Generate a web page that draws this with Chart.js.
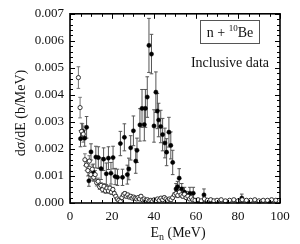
<!DOCTYPE html>
<html>
<head>
<meta charset="utf-8">
<script src="https://cdn.jsdelivr.net/npm/chart.js@4/dist/chart.umd.min.js"></script>
<style>
  html, body { margin: 0; padding: 0; background: #fff; }
  #myChart { display: block; }
</style>
</head>
<body>
<canvas id="myChart" width="300" height="244"></canvas>
<script>
// values in 10^-3 b/MeV, energies in MeV
var filledE = [5.0, 5.9, 7.0, 7.9, 9.0, 10.0, 11.1, 12.3, 13.5, 14.8, 16.0, 17.3, 18.3, 19.5, 20.5, 21.5, 22.6, 24.0, 25.0, 25.9,
    27.3, 28.0, 28.9, 30.2, 31.3, 31.9, 33.3, 34.3, 35.4, 35.9, 36.8, 37.6, 38.8, 40.0, 40.9, 41.6, 42.2, 43.2, 44.1, 45.2,
    46.0, 47.1, 48.0, 48.9, 50.5, 51.2, 52.0, 53.2, 54.5, 55.6, 57.1, 58.7, 60.0, 61.3, 62.5, 63.8, 65.2, 66.5, 70.0, 75.0,
    80.0, 81.8, 85.0, 90.0, 95.0];
var filledVal = [2.38, 2.65, 2.40, 2.80, 0.82, 1.89, 1.14, 1.70, 1.68, 1.27, 1.62, 1.08, 1.66, 1.10, 1.68, 0.98, 0.95, 2.20, 0.95, 2.43,
    1.05, 1.26, 2.04, 2.67, 1.55, 1.95, 2.89, 3.50, 2.90, 3.50, 3.92, 5.83, 5.51, 2.85, 4.10, 3.40, 3.07, 2.83, 2.53, 2.22,
    1.88, 2.62, 2.13, 1.50, 0.52, 0.60, 0.92, 0.52, 0.40, 0.28, 0.36, 0.36, 0.08, 0.06, 0.05, 0.30, 0.06, 0.04, 0.03, 0.04,
    0.04, 0.18, 0.04, 0.03, 0.03];
var filledErr = [0.30, 0.28, 0.30, 0.40, 0.20, 0.30, 0.30, 0.40, 0.40, 0.40, 0.42, 0.40, 0.42, 0.40, 0.42, 0.30, 0.30, 0.45, 0.30, 0.50,
    0.35, 0.40, 0.45, 0.55, 0.45, 0.45, 0.60, 0.70, 0.60, 0.70, 0.75, 1.00, 0.73, 0.60, 0.75, 0.65, 0.62, 0.60, 0.60, 0.55,
    0.50, 0.55, 0.50, 0.45, 0.20, 0.20, 0.35, 0.20, 0.18, 0.15, 0.22, 0.22, 0.06, 0.05, 0.05, 0.22, 0.05, 0.04, 0.03, 0.04,
    0.04, 0.15, 0.04, 0.03, 0.03];

var openE = [4.0, 4.8, 5.5, 6.3, 7.1, 7.8, 8.5, 9.2, 9.9, 10.6, 11.3, 12.0, 12.7, 13.4, 14.1, 14.8, 15.5, 16.2, 16.9, 17.6,
    18.3, 19.0, 19.7, 20.4, 21.1, 21.8, 22.5, 23.2, 24.0, 24.7, 25.4, 26.1, 26.8, 27.5, 28.2, 28.9, 29.6, 30.3, 31.0, 31.7,
    32.4, 33.1, 33.8, 34.5, 35.3, 36.1, 36.9, 37.7, 38.5, 39.3, 40.1, 40.9, 41.7, 42.5, 43.3, 44.1, 44.9, 45.7, 46.5, 47.3,
    48.1, 48.9, 49.7, 50.5, 51.3, 52.1, 52.9, 53.7, 54.5, 55.3, 56.1, 56.9, 57.7, 58.5, 59.5, 61, 62.5, 64, 65.5, 67,
    68.5, 70, 72, 74, 76, 78, 80, 82, 84, 86, 88, 90, 92, 94, 96, 98];
var openVal = [4.64, 3.53, 2.65, 2.55, 1.60, 1.40, 1.20, 1.55, 1.05, 1.25, 0.95, 1.05, 0.75, 0.80, 0.60, 0.65, 0.50, 0.62, 0.45, 0.55,
    0.45, 0.55, 0.40, 0.50, 0.35, 0.25, 0.15, 0.10, 0.05, 0.20, 0.30, 0.35, 0.25, 0.30, 0.22, 0.25, 0.18, 0.22, 0.18, 0.15,
    0.20, 0.15, 0.25, 0.12, 0.15, 0.10, 0.12, 0.08, 0.10, 0.06, 0.12, 0.08, 0.15, 0.10, 0.18, 0.12, 0.20, 0.15, 0.10, 0.15,
    0.12, 0.20, 0.30, 0.35, 0.28, 0.40, 0.30, 0.25, 0.32, 0.20, 0.25, 0.15, 0.20, 0.12, 0.10, 0.12, 0.08, 0.15, 0.10, 0.12,
    0.08, 0.10, 0.12, 0.08, 0.10, 0.12, 0.08, 0.12, 0.10, 0.10, 0.12, 0.08, 0.10, 0.10, 0.12, 0.10];
var openErr = [0.40, 0.38, 0.30, 0.30, 0.22, 0.20, 0.20, 0.20, 0.16, 0.16, 0.15, 0.15, 0.12, 0.12, 0.10, 0.10, 0.10, 0.10, 0.09, 0.09,
    0.09, 0.09, 0.08, 0.08, 0.08, 0.07, 0.06, 0.05, 0.05, 0.06, 0.07, 0.07, 0.06, 0.06, 0.06, 0.06, 0.05, 0.05, 0.05, 0.05,
    0.05, 0.05, 0.06, 0.05, 0.05, 0.05, 0.05, 0.04, 0.04, 0.04, 0.05, 0.04, 0.05, 0.05, 0.06, 0.05, 0.06, 0.05, 0.05, 0.05,
    0.05, 0.06, 0.08, 0.09, 0.08, 0.10, 0.08, 0.07, 0.08, 0.06, 0.07, 0.05, 0.06, 0.05, 0.04, 0.05, 0.04, 0.05, 0.04, 0.05,
    0.04, 0.04, 0.05, 0.04, 0.04, 0.05, 0.04, 0.05, 0.04, 0.04, 0.05, 0.04, 0.04, 0.04, 0.05, 0.04];

var xTicks = [0, 20, 40, 60, 80, 100];
var yTicks = [0, 0.001, 0.002, 0.003, 0.004, 0.005, 0.006, 0.007];

var serif = '"Liberation Serif", "DejaVu Serif", serif';

function toPoints(es, vs, errs) {
    var pts = [];
    for (var i = 0; i < es.length; i++) {
        pts.push({ x: es[i], y: vs[i] * 1e-3, err: errs[i] * 1e-3 });
    }
    return pts;
}

// error bars, drawn under the markers
var errorBars = {
    id: 'errorBars',
    beforeDatasetsDraw: function (chart) {
        var c = chart.ctx, xs = chart.scales.x, ys = chart.scales.y;
        c.save();
        chart.data.datasets.forEach(function (ds) {
            c.strokeStyle = ds.errColor;
            c.lineWidth = 1;
            ds.data.forEach(function (p) {
                var px = xs.getPixelForValue(p.x);
                var top = ys.getPixelForValue(p.y + p.err);
                var bot = ys.getPixelForValue(Math.max(0, p.y - p.err));
                c.beginPath();
                c.moveTo(px, top); c.lineTo(px, bot);
                c.moveTo(px - 1.8, top); c.lineTo(px + 1.8, top);
                c.moveTo(px - 1.8, bot); c.lineTo(px + 1.8, bot);
                c.stroke();
            });
        });
        c.restore();
    }
};

// frame, inward ticks, axis titles, labels
var decorations = {
    id: 'decorations',
    afterDraw: function (chart) {
        var c = chart.ctx, a = chart.chartArea, xs = chart.scales.x, ys = chart.scales.y;
        c.save();
        c.strokeStyle = '#000';
        c.lineWidth = 1;
        c.beginPath();
        for (var e = 0; e <= 100; e += 5) {
            var px = Math.round(xs.getPixelForValue(e)) + 0.5;
            var len = (e % 20 === 0) ? 5 : 3;
            c.moveTo(px, a.bottom); c.lineTo(px, a.bottom - len);
            c.moveTo(px, a.top); c.lineTo(px, a.top + len);
        }
        for (var k = 0; k <= 35; k++) {
            var py = Math.round(ys.getPixelForValue(k * 0.0002)) + 0.5;
            var l2 = (k % 5 === 0) ? 5 : 3;
            c.moveTo(a.left, py); c.lineTo(a.left + l2, py);
            c.moveTo(a.right, py); c.lineTo(a.right - l2, py);
        }
        c.stroke();

        c.lineWidth = 1.6;
        c.strokeRect(a.left, a.top, a.right - a.left, a.bottom - a.top);

        c.fillStyle = '#111';
        // x title with subscript
        c.font = '14px ' + serif;
        c.textBaseline = 'alphabetic';
        c.textAlign = 'left';
        var t1 = 'E', t2 = 'n', t3 = ' (MeV)';
        c.font = '14px ' + serif;
        var w1 = c.measureText(t1).width, w3 = c.measureText(t3).width;
        c.font = '10px ' + serif;
        var w2 = c.measureText(t2).width;
        var x0 = (a.left + a.right) / 2 - (w1 + w2 + w3) / 2 + 3;
        var by = 237;
        c.font = '14px ' + serif;
        c.fillText(t1, x0, by);
        c.font = '10px ' + serif;
        c.fillText(t2, x0 + w1, by + 3);
        c.font = '14px ' + serif;
        c.fillText(t3, x0 + w1 + w2, by);

        // y title
        c.save();
        c.translate(25, 113);
        c.rotate(-Math.PI / 2);
        c.textAlign = 'center';
        c.font = '14px ' + serif;
        c.fillText('d\u03c3/dE (b/MeV)', 0, 0);
        c.restore();

        // legend box "n + 10Be"
        c.lineWidth = 1;
        c.strokeStyle = '#555';
        c.strokeRect(200.5, 20.5, 59, 23);
        c.font = '14px ' + serif;
        var s1 = 'n + ', s2 = '10', s3 = 'Be';
        var ww1 = c.measureText(s1).width, ww3 = c.measureText(s3).width;
        c.font = '9px ' + serif;
        var ww2 = c.measureText(s2).width;
        var lx = 230 - (ww1 + ww2 + ww3) / 2;
        c.font = '14px ' + serif;
        c.fillText(s1, lx, 37);
        c.font = '9px ' + serif;
        c.fillText(s2, lx + ww1, 31);
        c.font = '14px ' + serif;
        c.fillText(s3, lx + ww1 + ww2, 37);

        c.textAlign = 'center';
        c.fillText('Inclusive data', 230, 67);
        c.restore();
    }
};

var ctx = document.getElementById('myChart').getContext('2d');

var myChart = new Chart(ctx, {
    type: 'scatter',
    data: {
        datasets: [{
            label: 'open',
            data: toPoints(openE, openVal, openErr),
            pointStyle: 'circle',
            pointRadius: 2.1,
            pointBorderWidth: 0.9,
            pointBackgroundColor: '#fff',
            pointBorderColor: '#222',
            errColor: '#777'
        },
        {
            label: 'filled',
            data: toPoints(filledE, filledVal, filledErr),
            pointStyle: 'circle',
            pointRadius: 2.1,
            pointBorderWidth: 0.5,
            pointBackgroundColor: '#000',
            pointBorderColor: '#000',
            errColor: '#555'
        }]
    },
    options: {
        responsive: false,
        animation: false,
        devicePixelRatio: 1,
        layout: { padding: { left: 0, right: 20, top: 10, bottom: 0 } },
        plugins: {
            legend: { display: false },
            tooltip: { enabled: false }
        },
        scales: {
            x: {
                type: 'linear',
                min: 0,
                max: 100,
                afterFit: function (s) { s.height = 41; },
                afterBuildTicks: function (s) { s.ticks = xTicks.map(function (v) { return { value: v }; }); },
                grid: { display: false, drawTicks: false },
                border: { display: false },
                ticks: { padding: 6, color: '#111', font: { family: serif, size: 13 } }
            },
            y: {
                type: 'linear',
                min: 0,
                max: 0.007,
                afterFit: function (s) { s.width = 70; },
                afterBuildTicks: function (s) { s.ticks = yTicks.map(function (v) { return { value: v }; }); },
                grid: { display: false, drawTicks: false },
                border: { display: false },
                ticks: {
                    padding: 6,
                    color: '#111',
                    font: { family: serif, size: 13 },
                    callback: function (v) { return v.toFixed(3); }
                }
            }
        }
    },
    plugins: [errorBars, decorations]
});
</script>
</body>
</html>
